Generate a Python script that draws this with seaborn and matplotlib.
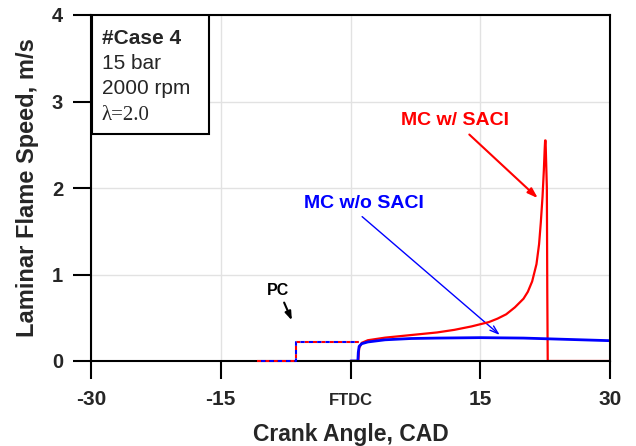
import numpy as np
import pandas as pd
import matplotlib
matplotlib.use("Agg")
import matplotlib.pyplot as plt
import seaborn as sns
from matplotlib.patches import Rectangle

# ---- data ----
pc_x = [-10.8, -6.3, -6.3, 1.0]
pc_y = [0.0, 0.0, 0.22, 0.22]

with_saci_x = [0.0, 0.9, 1.0, 1.3, 2, 4, 6, 8, 10, 12, 14, 16, 17, 18, 19, 20, 20.5, 21, 21.5,
               21.8, 22.0, 22.2, 22.35, 22.45, 22.5, 22.55, 22.7, 22.75, 22.8, 30]
with_saci_y = [0.0, 0.0, 0.15, 0.21, 0.24, 0.27, 0.29, 0.31, 0.33, 0.36, 0.40, 0.45, 0.49, 0.54,
               0.62, 0.72, 0.80, 0.92, 1.12, 1.35, 1.6, 1.9, 2.2, 2.45, 2.55, 2.55, 2.0, 0.8, 0.0, 0.0]

without_saci_x = [0.0, 0.85, 0.9, 1.0, 1.3, 2, 4, 7, 10, 15, 20, 25, 30]
without_saci_y = [0.0, 0.0, 0.1, 0.17, 0.2, 0.22, 0.245, 0.26, 0.265, 0.27, 0.265, 0.25, 0.235]

xticks = [-30, -15, 0, 15, 30]
xticklabels = ["-30", "-15", "FTDC", "15", "30"]
yticks = [0, 1, 2, 3, 4]

sns.set_style("white")
plt.rcParams['font.family'] = ['Liberation Sans', 'DejaVu Sans']

fig = plt.figure(figsize=(6.36, 4.46), dpi=100)
ax = fig.add_axes([91/636, 1-361/446, 519/636, 346/446])

ax.grid(True, color="#e2e2e2", lw=1.0, zorder=0)
ax.set_axisbelow(True)

df_pc = pd.DataFrame({"x": pc_x, "y": pc_y})
sns.lineplot(data=df_pc, x="x", y="y", ax=ax, color="red", lw=1.5, sort=False,
             linestyle=(0, (2, 2)), estimator=None, zorder=8, clip_on=False)
sns.lineplot(data=df_pc, x="x", y="y", ax=ax, color="blue", lw=1.5, sort=False,
             linestyle=(2, (2, 2)), estimator=None, zorder=8, clip_on=False)

df_w = pd.DataFrame({"x": with_saci_x, "y": with_saci_y})
sns.lineplot(data=df_w, x="x", y="y", ax=ax, color="red", lw=1.6, sort=False,
             estimator=None, zorder=4)
df_wo = pd.DataFrame({"x": without_saci_x, "y": without_saci_y})
sns.lineplot(data=df_wo, x="x", y="y", ax=ax, color="blue", lw=2.0, sort=False,
             estimator=None, zorder=5)

ax.set_xlim(-30, 30)
ax.set_ylim(0, 4)
ax.set_xticks(xticks)
ax.set_xticklabels(xticklabels)
ax.set_yticks(yticks)

for s in ax.spines.values():
    s.set_color("black")
    s.set_linewidth(1.5)
    s.set_zorder(6)

ax.tick_params(axis="both", direction="out", length=13, width=1.5, color="black",
               bottom=True, left=True, top=False, right=False)
ax.tick_params(axis="y", pad=7, labelsize=14.5)
ax.tick_params(axis="x", pad=18.5, labelsize=15)
for lab in ax.get_xticklabels():
    lab.set_fontweight("bold")
    lab.set_va("baseline")
    if lab.get_text() == "FTDC":
        lab.set_fontsize(12)
for lab in ax.get_yticklabels():
    lab.set_fontweight("bold")

ax.set_xlabel("Crank Angle, CAD", fontsize=16.5, fontweight="bold", labelpad=10)
ax.set_ylabel("Laminar Flame Speed, m/s", fontsize=17, fontweight="bold", labelpad=9)

# info box
ax.add_patch(Rectangle((0.002, 0.656), 0.225, 0.344, transform=ax.transAxes,
                       facecolor="white", edgecolor="black", lw=1.5, zorder=7))
tx = 0.021
ax.text(tx, 0.916, "#Case 4", transform=ax.transAxes, fontsize=15, fontweight="bold",
        va="baseline", ha="left", zorder=8)
ax.text(tx, 0.844, "15 bar", transform=ax.transAxes, fontsize=15,
        va="baseline", ha="left", zorder=8)
ax.text(tx, 0.773, "2000 rpm", transform=ax.transAxes, fontsize=15,
        va="baseline", ha="left", zorder=8)
ax.text(tx, 0.697, "λ=2.0", transform=ax.transAxes, fontsize=15,
        family=["Liberation Serif", "DejaVu Serif"], va="baseline", ha="left", zorder=8)

# annotations
ax.text(12.1, 2.73, "MC w/ SACI", color="red", fontsize=14, fontweight="bold",
        ha="center", va="baseline")
ax.annotate("", xy=(21.9, 1.86), xytext=(13.5, 2.64),
            arrowprops=dict(arrowstyle="-|>,head_length=0.6,head_width=0.2", color="red", lw=1.5))
ax.text(1.6, 1.77, "MC w/o SACI", color="blue", fontsize=14, fontweight="bold",
        ha="center", va="baseline")
ax.annotate("", xy=(17.5, 0.28), xytext=(1.1, 1.69),
            arrowprops=dict(arrowstyle="->,head_length=0.6,head_width=0.2", color="blue", lw=1.0))
ax.text(-8.4, 0.76, "PC", color="black", fontsize=11.5, fontweight="bold",
        ha="center", va="baseline")
ax.annotate("", xy=(-6.65, 0.44), xytext=(-7.8, 0.705),
            arrowprops=dict(arrowstyle="-|>,head_length=0.5,head_width=0.18", color="black", lw=1.5))

fig.savefig("out.png", dpi=100)
